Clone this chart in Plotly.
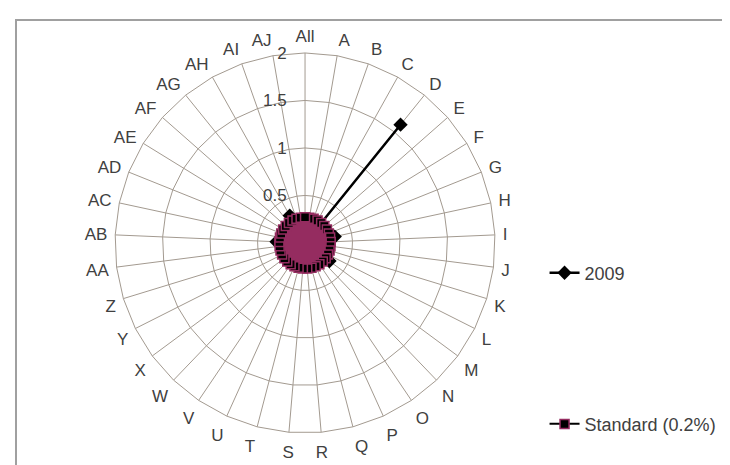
import plotly.graph_objects as go

# categories around the radar, clockwise from the top
categories = ['All'] + [chr(c) for c in range(ord('A'), ord('Z') + 1)] + \
             ['AA', 'AB', 'AC', 'AD', 'AE', 'AF', 'AG', 'AH', 'AI', 'AJ']

values_2009 = [0, 0, 0, 0, 1.6, 0, 0, 0, 0.32, 0, 0, 0, 0, 0.32, 0, 0, 0, 0, 0,
               0, 0, 0, 0, 0, 0, 0, 0, 0, 0.3, 0, 0, 0, 0, 0, 0.33, 0, 0]
values_standard = [0.27] * len(categories)

radial_ticks = [0.5, 1, 1.5, 2]
radial_labels = ['0.5', '1', '1.5', '2']

GRID = '#a39a90'
TEXT = '#404040'
PINK = '#952c60'
FONT = 'Liberation Sans, Arial, sans-serif'

theta = categories + categories[:1]

fig = go.Figure()

fig.add_trace(go.Scatterpolar(
    r=values_2009 + values_2009[:1], theta=theta,
    mode='lines+markers', name='2009',
    line=dict(color='black', width=2.5),
    marker=dict(symbol='diamond', size=11, color='black'),
    legend='legend', showlegend=True,
))

# filled body of the standard series
fig.add_trace(go.Scatterpolar(
    r=values_standard + values_standard[:1], theta=theta,
    mode='lines', fill='toself', fillcolor=PINK,
    line=dict(color=PINK, width=2),
    showlegend=False, hoverinfo='skip',
))

fig.add_trace(go.Scatterpolar(
    r=values_standard + values_standard[:1], theta=theta,
    mode='lines+markers', name='Standard (0.2%)',
    line=dict(color='black', width=2),
    marker=dict(symbol='square', size=9, color='black',
                line=dict(color=PINK, width=1.5)),
    legend='legend2', showlegend=True,
))

fig.update_layout(
    width=730, height=465,
    margin=dict(l=0, r=0, t=0, b=0),
    paper_bgcolor='white',
    showlegend=True,
    font=dict(family=FONT, size=17, color=TEXT),
    polar=dict(
        domain=dict(x=[0.1466, 0.6672], y=[0.0861, 0.9033]),
        bgcolor='white',
        gridshape='linear',
        angularaxis=dict(
            rotation=90, direction='clockwise',
            type='category', categoryarray=categories,
            showline=True, linecolor=GRID, linewidth=1,
            gridcolor=GRID, gridwidth=1,
            ticks='outside', ticklen=4, tickcolor='rgba(0,0,0,0)',
            tickfont=dict(size=17, color=TEXT),
        ),
        radialaxis=dict(
            range=[0, 2], angle=90, side='counterclockwise',
            tickvals=radial_ticks, ticktext=radial_labels,
            showline=False, gridcolor=GRID, gridwidth=1,
            ticks='outside', ticklen=12, tickcolor='rgba(0,0,0,0)',
            tickangle=90,
            tickfont=dict(size=17, color=TEXT),
        ),
    ),
    legend=dict(x=0.735, y=0.43, xanchor='left', yanchor='middle',
                bgcolor='rgba(0,0,0,0)', font=dict(size=18, color=TEXT)),
    legend2=dict(x=0.735, y=0.105, xanchor='left', yanchor='middle',
                 bgcolor='rgba(0,0,0,0)', font=dict(size=18, color=TEXT)),
    shapes=[dict(type='rect', xref='paper', yref='paper',
                 x0=8 / 730, y0=-0.1, x1=1.1, y1=1 - 12 / 465,
                 line=dict(color='#a0a0a0', width=2), layer='below')],
)

fig.write_html('out.html')
